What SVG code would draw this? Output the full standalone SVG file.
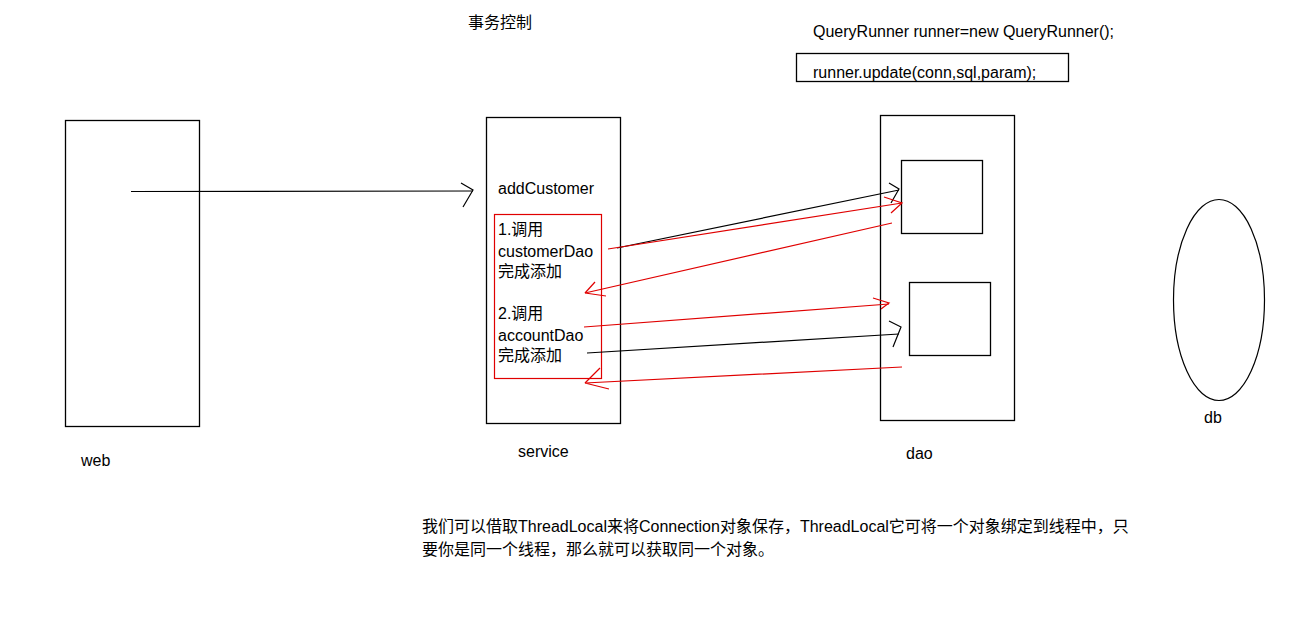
<svg xmlns="http://www.w3.org/2000/svg" width="1292" height="642" viewBox="0 0 1292 642">
<style>
text{font-family:"Liberation Sans","Noto Sans CJK SC",sans-serif;font-size:16px;fill:#000}
.box{fill:none;stroke:#000;stroke-width:1.3}
.red{fill:none;stroke:#e00000;stroke-width:1.2}
.blk{fill:none;stroke:#000;stroke-width:1.2}
</style>
<rect width="1292" height="642" fill="#fff"/>
<g id="title"><text x="468" y="28">事务控制</text></g>
<g id="code">
<text x="813" y="37">QueryRunner runner=new QueryRunner();</text>
<rect class="box" x="796.5" y="53.5" width="272" height="28"/>
<text x="813" y="78">runner.update(conn,sql,param);</text>
</g>
<g id="web">
<rect class="box" x="65.5" y="120.5" width="134" height="306"/>
<text x="81" y="466">web</text>
</g>
<g id="service">
<rect class="box" x="486.5" y="117.5" width="134" height="306"/>
<text x="498" y="194">addCustomer</text>
<rect fill="none" stroke="#e00000" stroke-width="1.2" x="494.5" y="214.5" width="107" height="164"/>
<text x="498" y="235">1.调用</text>
<text x="498" y="257">customerDao</text>
<text x="498" y="277">完成添加</text>
<text x="498" y="319">2.调用</text>
<text x="498" y="341">accountDao</text>
<text x="498" y="361">完成添加</text>
<text x="518" y="457">service</text>
</g>
<g id="dao">
<rect class="box" x="880.5" y="115.5" width="134" height="305"/>
<rect class="box" x="901.5" y="160.5" width="81" height="73"/>
<rect class="box" x="909.5" y="282.5" width="81" height="73"/>
<text x="906" y="459">dao</text>
</g>
<g id="db">
<ellipse fill="none" stroke="#000" stroke-width="1.2" cx="1219" cy="300" rx="45.5" ry="100.5"/>
<text x="1204" y="423">db</text>
</g>
<g id="connectors">
<path class="blk" d="M131,191.5 L473,191"/>
<path class="blk" d="M461,183 L473,190 L463,207"/>
<path class="blk" d="M617,248 L899,190"/>
<path class="blk" d="M889,183 L899,189 L891,203"/>
<path class="red" d="M608,249 L902,203"/>
<path class="red" d="M884,197 L902,203 L891,213"/>
<path class="red" d="M892,223 L585,293 L606,296"/>
<path class="red" d="M595,282 L585,293"/>
<path class="red" d="M584,327 L889,304"/>
<path class="red" d="M873,298 L889,303 L881,309"/>
<path class="blk" d="M587,353 L899,334"/>
<path class="blk" d="M889,321 L901,327 L893,347"/>
<path class="red" d="M902,367 L585,383 L609,389"/>
<path class="red" d="M600,368 L585,383"/>
</g>
<g id="note">
<text x="422" y="532">我们可以借取ThreadLocal来将Connection对象保存，ThreadLocal它可将一个对象绑定到线程中，只</text>
<text x="422" y="555">要你是同一个线程，那么就可以获取同一个对象。</text>
</g>
</svg>
